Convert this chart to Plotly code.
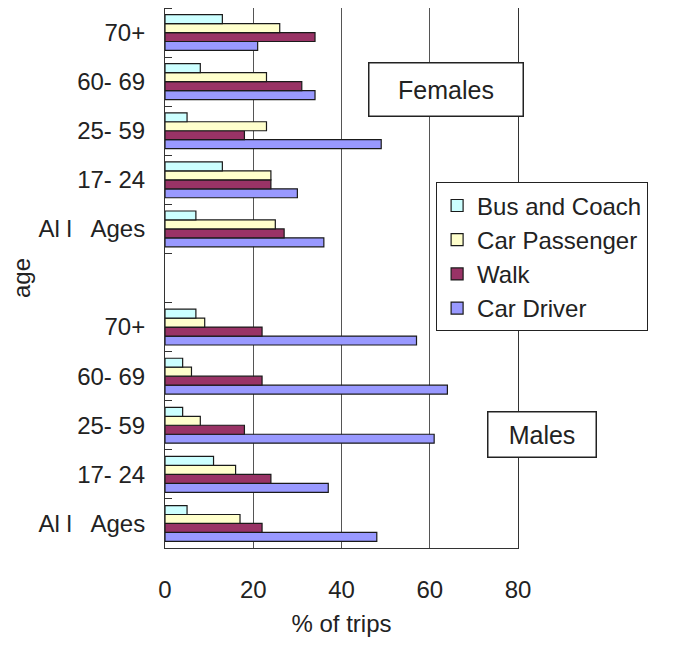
import plotly.graph_objects as go

# ---- data ----
age_labels = ["Al l\u00a0\u00a0 Ages", "17- 24", "25- 59", "60- 69", "70+"]
series_names = ["Bus and Coach", "Car Passenger", "Walk", "Car Driver"]
series_colors = ["#CCFFFF", "#FFFFCC", "#993366", "#9999FF"]

females_bus = [7, 13, 5, 8, 13]
females_car_passenger = [25, 24, 23, 23, 26]
females_walk = [27, 24, 18, 31, 34]
females_car_driver = [36, 30, 49, 34, 21]

males_bus = [5, 11, 4, 4, 7]
males_car_passenger = [17, 16, 8, 6, 9]
males_walk = [22, 24, 18, 22, 22]
males_car_driver = [48, 37, 61, 64, 57]

x_ticks = [0, 20, 40, 60, 80]

# positions: males 0..4, empty slot 5, females 6..10
male_pos = list(range(len(age_labels)))
female_pos = [len(age_labels) + 1 + i for i in range(len(age_labels))]
tick_pos = male_pos + female_pos
tick_text = age_labels + age_labels

female_vals = [females_bus, females_car_passenger, females_walk, females_car_driver]
male_vals = [males_bus, males_car_passenger, males_walk, males_car_driver]

FONT = "Liberation Sans, Arial, sans-serif"
TXT = "#222222"
FS = 24

fig = go.Figure()
# add in reverse so Bus is the top bar of each group
for i in reversed(range(len(series_names))):
    fig.add_trace(go.Bar(
        name=series_names[i],
        orientation="h",
        y=male_pos + female_pos,
        x=male_vals[i] + female_vals[i],
        marker=dict(color=series_colors[i], line=dict(color="#1a1a1a", width=1.2)),
    ))

fig.update_layout(
    width=675, height=660,
    margin=dict(l=157, r=165, t=0, b=120, autoexpand=False),
    paper_bgcolor="white", plot_bgcolor="white",
    barmode="group", bargap=0.27, bargroupgap=0,
    font=dict(family=FONT, size=FS, color=TXT),
    showlegend=True,
    legend=dict(
        x=0.768, y=0.677, xanchor="left", yanchor="top",
        traceorder="reversed",
        bgcolor="white", bordercolor="#222", borderwidth=1,
        font=dict(family=FONT, size=FS, color=TXT),
        itemwidth=30, tracegroupgap=0,
    ),
)

fig.update_xaxes(
    range=[0, 80], tickvals=x_ticks,
    showgrid=True, gridcolor="#555555", gridwidth=1,
    showline=True, linecolor="#333333", linewidth=1, mirror=True,
    ticks="", zeroline=False, automargin=False,
    tickfont=dict(family=FONT, size=FS, color=TXT),
    ticklabelstandoff=20,
    title=dict(text="% of trips", font=dict(family=FONT, size=FS, color=TXT), standoff=13),
)
fig.update_yaxes(
    range=[-0.5, 10.5], tickvals=tick_pos, ticktext=tick_text,
    showgrid=False, zeroline=False, automargin=False,
    showline=True, linecolor="#333333", linewidth=1, mirror=True,
    ticks="",
    minor=dict(ticks="inside", tick0=0.5, dtick=1, ticklen=7, tickcolor="#333333", showgrid=False),
    tickfont=dict(family=FONT, size=FS, color=TXT),
    ticklabelstandoff=14,
    title=dict(text="age", font=dict(family=FONT, size=FS, color=TXT), standoff=28),
)

fig.add_annotation(
    xref="paper", yref="paper", x=0.795, y=0.849,
    xanchor="center", yanchor="middle",
    text="Females", showarrow=False,
    font=dict(family=FONT, size=25, color=TXT),
    width=151, height=50, bgcolor="white",
    bordercolor="#222", borderwidth=1.5, borderpad=1,
)
fig.add_annotation(
    xref="paper", yref="paper", x=1.069, y=0.210,
    xanchor="center", yanchor="middle",
    text="Males", showarrow=False,
    font=dict(family=FONT, size=25, color=TXT),
    width=105, height=42, bgcolor="white",
    bordercolor="#222", borderwidth=1.5, borderpad=1,
)

fig.write_html("out.html")
